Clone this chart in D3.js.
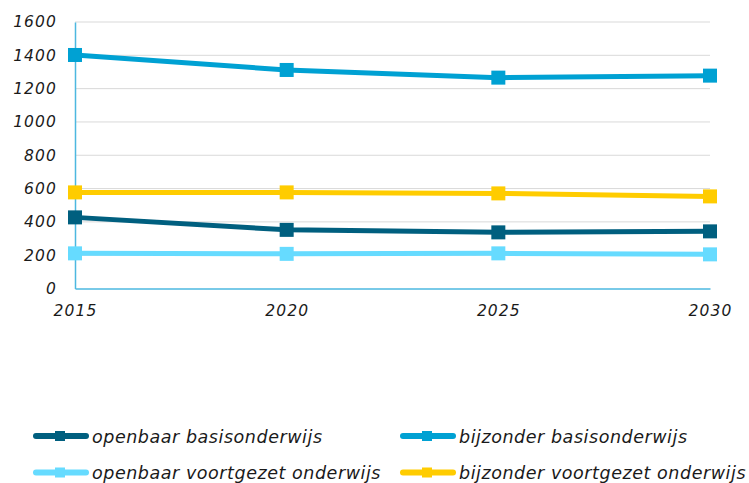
<!DOCTYPE html>
<html>
<head>
<meta charset="utf-8">
<script src="https://cdn.jsdelivr.net/npm/d3@7"></script>
<style>
  body { margin: 0; background: #fff; }
  text { font-family: "DejaVu Sans", Verdana, sans-serif; font-style: italic; fill: #1a1a1a; }
</style>
</head>
<body>
<div id="chart"></div>
<script>
// data
const years = [2015, 2020, 2025, 2030];
const yTicks = [0, 200, 400, 600, 800, 1000, 1200, 1400, 1600];
const seriesNames = ["openbaar basisonderwijs", "bijzonder basisonderwijs", "openbaar voortgezet onderwijs", "bijzonder voortgezet onderwijs"];
const openbaarBasis = [427, 352, 337, 343];
const bijzonderBasis = [1402, 1312, 1266, 1278];
const openbaarVoortgezet = [211, 208, 211, 205];
const bijzonderVoortgezet = [577, 577, 571, 553];
const colors = ["#005f7f", "#00a1d3", "#66dbff", "#ffcc00"];

const series = [openbaarBasis, bijzonderBasis, openbaarVoortgezet, bijzonderVoortgezet];

const width = 749, height = 483;
const svg = d3.select("#chart")
              .append("svg")
              .attr("width", width)
              .attr("height", height);

const x = d3.scaleLinear()
            .domain([2015, 2030])
            .range([75, 710]);

const y = d3.scaleLinear()
            .domain([0, 1600])
            .range([288.5, 22]);

// gridlines
svg.append("g")
   .selectAll("line")
   .data(yTicks.slice(1))
   .join("line")
   .attr("x1", x(2015))
   .attr("x2", x(2030))
   .attr("y1", d => y(d))
   .attr("y2", d => y(d))
   .attr("stroke", "#d9d9d9")
   .attr("stroke-width", 1);

// axes
const yAxis = svg.append("g")
   .attr("transform", `translate(${x(2015)},0)`)
   .call(d3.axisLeft(y).tickValues(yTicks).tickSize(0).tickPadding(18).tickFormat(d3.format("d")));
const xAxis = svg.append("g")
   .attr("transform", `translate(0,${y(0)})`)
   .call(d3.axisBottom(x).tickValues(years).tickSize(0).tickPadding(16).tickFormat(d3.format("d")));

[yAxis, xAxis].forEach(a => {
    a.select(".domain").attr("stroke", "#4db8e0").attr("stroke-width", 1.5);
    a.selectAll("text")
     .style("font-size", "15.5px")
     .style("letter-spacing", "1.1px")
     .attr("fill", "#1a1a1a");
});

// lines and markers
const line = d3.line()
               .x((d, i) => x(years[i]))
               .y(d => y(d));

series.forEach((s, k) => {
    svg.append("path")
       .datum(s)
       .attr("fill", "none")
       .attr("stroke", colors[k])
       .attr("stroke-width", 5)
       .attr("d", line);

    svg.append("g")
       .selectAll("rect")
       .data(s)
       .join("rect")
       .attr("x", (d, i) => x(years[i]) - 7)
       .attr("y", d => y(d) - 7)
       .attr("width", 14)
       .attr("height", 14)
       .attr("fill", colors[k]);
});

// legend
const legendPos = [[33, 436], [400, 436], [33, 472.5], [400, 472.5]];
seriesNames.forEach((name, k) => {
    const g = svg.append("g")
                 .attr("transform", `translate(${legendPos[k][0]},${legendPos[k][1]})`);
    g.append("line")
     .attr("x1", 3).attr("x2", 53)
     .attr("stroke", colors[k])
     .attr("stroke-width", 6)
     .attr("stroke-linecap", "round");
    g.append("rect")
     .attr("x", 22).attr("y", -5)
     .attr("width", 10).attr("height", 10)
     .attr("fill", colors[k]);
    g.append("text")
     .attr("x", 59)
     .attr("dy", "6.5px")
     .style("font-size", "17.5px")
     .style("letter-spacing", "0.55px")
     .text(name);
});
</script>
</body>
</html>
